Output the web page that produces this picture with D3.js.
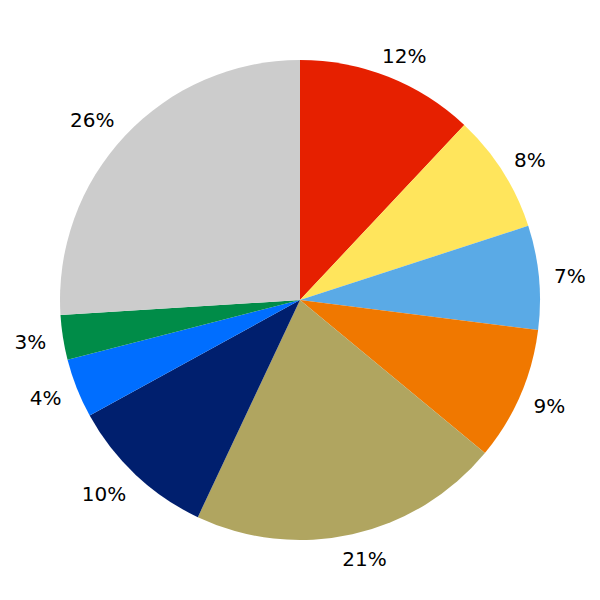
<!DOCTYPE html>
<html>
<head>
<meta charset="utf-8">
<script src="https://cdn.jsdelivr.net/npm/d3@7"></script>
<style>
html,body{margin:0;padding:0;background:#fff;}
svg{display:block;}
</style>
</head>
<body>
<svg id="chart" width="600" height="600"></svg>
<script>
const labels = ["12%", "8%", "7%", "9%", "21%", "10%", "4%", "3%", "26%"];
const values = [12, 8, 7, 9, 21, 10, 4, 3, 26];
const colors = ["#E62000", "#FFE55C", "#5AAAE6", "#F07800", "#B0A560", "#001F6E", "#006EFF", "#008C48", "#CCCCCC"];

const W = 600, H = 600, cx = 300, cy = 300, R = 240;
const svg = d3.select("#chart");
const g = svg.append("g").attr("transform", `translate(${cx},${cy})`);

const data = values.map((v, i) => ({v, label: labels[i], color: colors[i]}));
const pie = d3.pie().value(d => d.v).sort(null);
const arcs = pie(data);
const arc = d3.arc().innerRadius(0).outerRadius(R);

g.selectAll("path.slice").data(arcs).enter().append("path")
  .attr("class", "slice")
  .attr("d", arc)
  .attr("fill", d => d.data.color);

const LR = R * 1.1;
g.selectAll("text.lbl").data(arcs).enter().append("text")
  .attr("class", "lbl")
  .attr("font-family", "DejaVu Sans")
  .attr("font-size", 20)
  .attr("fill", "#000")
  .each(function(d) {
    const a = (d.startAngle + d.endAngle) / 2;
    const x = LR * Math.sin(a), y = -LR * Math.cos(a);
    const t = d3.select(this);
    t.text(d.data.label).attr("dy", "0.36em").attr("y", y + 1);
    if (x >= 0) {
      t.attr("text-anchor", "middle").attr("x", x + 7);
    } else {
      t.attr("text-anchor", "end").attr("x", x + 7);
    }
  });
</script>
</body>
</html>
